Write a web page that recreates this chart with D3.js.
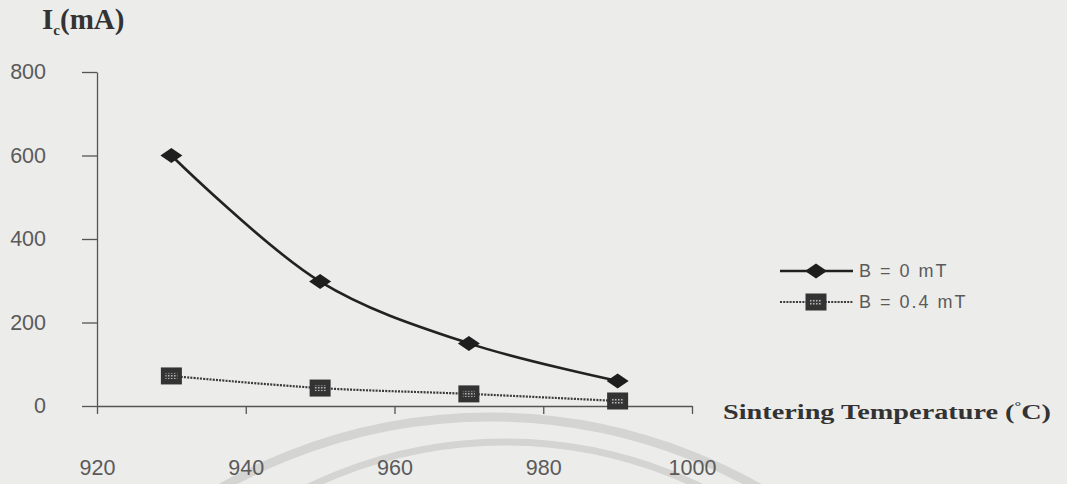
<!DOCTYPE html>
<html>
<head>
<meta charset="utf-8">
<script src="https://cdn.jsdelivr.net/npm/d3@7"></script>
<style>
  html, body { margin: 0; padding: 0; background: #ececeb; }
  #chart { width: 1067px; height: 484px; }
  .tick-lbl { font-family: "Liberation Sans", Arial, sans-serif; fill: #5a5a5a; }
  .ttl { font-family: "Liberation Serif", "Times New Roman", serif; font-weight: bold; fill: #333; }
</style>
</head>
<body>
<div id="chart"></div>
<script>
// sintering temperature vs critical current
const temps = [930, 950, 970, 990];
const icZero = [600, 298, 150, 60];   // B = 0 mT
const icFour = [72, 43, 29, 12];      // B = 0.4 mT
const xTicks = [920, 940, 960, 980, 1000];
const yTicks = [0, 200, 400, 600, 800];
const legendLabels = ['B = 0 mT', 'B = 0.4 mT'];

const W = 1067, H = 484;
const svg = d3.select('#chart').append('svg')
    .attr('width', W).attr('height', H);

svg.append('rect').attr('width', W).attr('height', H).attr('fill', '#ececeb');

// faint scan arcs at the bottom of the page
svg.append('circle').attr('cx', 490).attr('cy', 963).attr('r', 546)
    .attr('fill', 'none').attr('stroke', '#d4d4d3').attr('stroke-width', 9);
svg.append('circle').attr('cx', 505).attr('cy', 893).attr('r', 451)
    .attr('fill', 'none').attr('stroke', '#d4d4d3').attr('stroke-width', 7);

// patterns for the square marker
const defs = svg.append('defs');
const pat = defs.append('pattern').attr('id', 'dots')
    .attr('width', 3).attr('height', 3).attr('patternUnits', 'userSpaceOnUse');
pat.append('rect').attr('width', 3).attr('height', 3).attr('fill', '#3a3a3a');
pat.append('rect').attr('width', 1.5).attr('height', 1.5).attr('fill', '#b8b8b8');

const x = d3.scaleLinear().domain([920, 1000]).range([97, 692]);
const y = d3.scaleLinear().domain([0, 800]).range([406, 72]);

// ── Axes ──
const yAxis = svg.append('g')
    .attr('transform', `translate(${x(920)},0)`)
    .call(d3.axisLeft(y).tickValues(yTicks).tickSize(15).tickSizeOuter(0).tickPadding(36));
const xAxis = svg.append('g')
    .attr('transform', `translate(0,${y(0)})`)
    .call(d3.axisBottom(x).tickValues(xTicks).tickFormat(d3.format('d'))
        .tickSize(8).tickSizeOuter(0));

[yAxis, xAxis].forEach(a => {
    a.selectAll('path.domain').attr('stroke', '#555').attr('stroke-width', 1.3);
    a.selectAll('.tick line').attr('stroke', '#555').attr('stroke-width', 1.3);
    a.selectAll('.tick text').attr('class', 'tick-lbl').attr('font-size', 21.5);
});
xAxis.selectAll('.tick text').attr('y', 0).attr('dy', 0).attr('transform', 'translate(0,69)');

// ── Lines ──
const line = d3.line()
    .x(d => x(d[0]))
    .y(d => y(d[1]))
    .curve(d3.curveCatmullRom.alpha(0.5));

const s0 = temps.map((t, i) => [t, icZero[i]]);
const s1 = temps.map((t, i) => [t, icFour[i]]);

svg.append('path').datum(s1).attr('d', line)
    .attr('fill', 'none').attr('stroke', '#3a3a3a')
    .attr('stroke-width', 2.2).attr('stroke-dasharray', '2,1.2');
svg.append('path').datum(s0).attr('d', line)
    .attr('fill', 'none').attr('stroke', '#222').attr('stroke-width', 2.6);

function diamond(g, cx, cy) {
    g.append('path')
        .attr('d', `M${cx - 11},${cy} L${cx},${cy - 7.5} L${cx + 11},${cy} L${cx},${cy + 7.5} Z`)
        .attr('fill', '#1e1e1e');
}
function square(g, cx, cy) {
    g.append('rect').attr('x', cx - 10.5).attr('y', cy - 8.5)
        .attr('width', 21).attr('height', 17).attr('fill', '#333');
    g.append('rect').attr('x', cx - 6).attr('y', cy - 3)
        .attr('width', 12).attr('height', 6).attr('fill', 'url(#dots)');
}

const marks = svg.append('g');
s1.forEach(d => square(marks, x(d[0]), y(d[1])));
s0.forEach(d => diamond(marks, x(d[0]), y(d[1])));

// ── Titles ──
const yt = svg.append('text').attr('class', 'ttl')
    .attr('x', 42).attr('y', 29).attr('font-size', 29);
yt.append('tspan').text('I');
yt.append('tspan').attr('font-size', 15).attr('dy', 6).text('c');
yt.append('tspan').attr('dy', -6).text('(mA)');

const xt = svg.append('text').attr('class', 'ttl')
    .attr('x', 723).attr('y', 419).attr('font-size', 22)
    .attr('textLength', 328).attr('lengthAdjust', 'spacingAndGlyphs');
xt.append('tspan').text('Sintering Temperature (');
xt.append('tspan').attr('font-size', 13).attr('dy', -9).text('°');
xt.append('tspan').attr('dy', 9).text('C)');

// ── Legend ──
const legRows = [271, 302];
const leg = svg.append('g');
legRows.forEach((ly, i) => {
    leg.append('line').attr('x1', 780).attr('x2', 853).attr('y1', ly).attr('y2', ly)
        .attr('stroke', i === 0 ? '#222' : '#3a3a3a')
        .attr('stroke-width', i === 0 ? 2.6 : 2.2)
        .attr('stroke-dasharray', i === 0 ? null : '2,1.2');
    if (i === 0) diamond(leg, 816, ly); else square(leg, 816, ly);
    leg.append('text').attr('class', 'tick-lbl')
        .attr('x', 859).attr('y', ly).attr('dy', '0.36em')
        .attr('font-size', 18).attr('letter-spacing', 2)
        .text(legendLabels[i]);
});
</script>
</body>
</html>
